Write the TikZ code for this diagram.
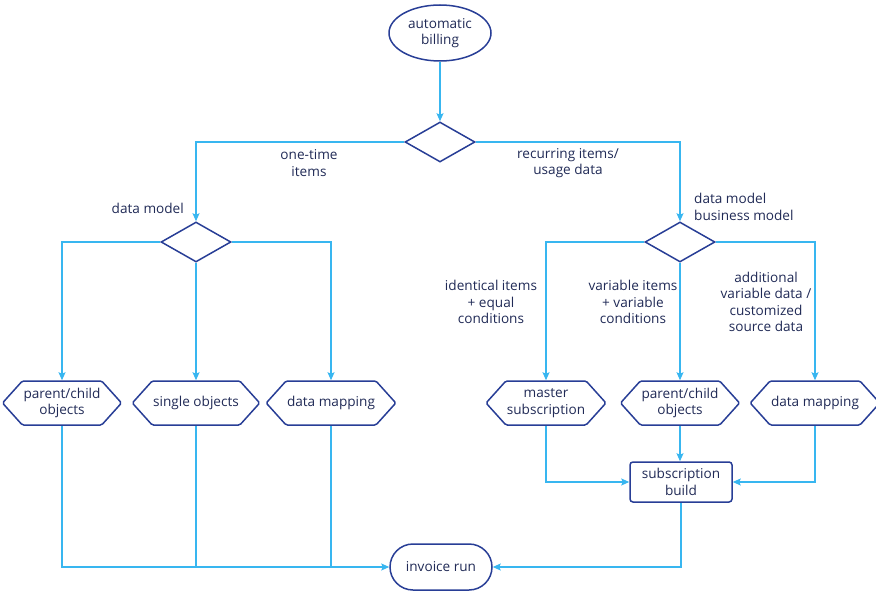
\documentclass[tikz,border=0pt]{standalone}
\usepackage{fontspec}
\setmainfont{Open Sans}
\usepackage{xcolor}
\usepackage{tikz}
\usetikzlibrary{shapes.geometric, shapes.symbols, arrows.meta, positioning, calc}
\definecolor{BillNavy}{RGB}{40, 62, 150}
\definecolor{BillSky}{RGB}{56, 182, 240}
\definecolor{BillText}{RGB}{32, 42, 86}

\tikzset{
  base/.style={draw=BillNavy, line width=1.5pt, text=BillText, align=center,
    font=\fontsize{13.6}{16.5}\selectfont, inner sep=1pt},
  startnode/.style={base, ellipse, minimum width=102pt, minimum height=56pt},
  endnode/.style={base, rectangle, rounded corners=23pt, minimum width=102pt, minimum height=46pt},
  choice/.style={base, diamond, minimum width=70pt, minimum height=40pt},
  hexnode/.style={base, signal, signal to=west and east, signal pointer angle=96,
    rounded corners=1.5pt, minimum width=119pt, minimum height=44pt},
  buildbox/.style={base, rectangle, rounded corners=3pt, minimum width=102pt, minimum height=40pt},
  flow/.style={draw=BillSky, line width=1.3pt, -{Stealth[length=8pt, width=7pt, inset=1.5pt]}},
  plain/.style={draw=BillSky, line width=1.3pt},
  note/.style={text=BillText, align=center, font=\fontsize{13.6}{16.5}\selectfont, inner sep=0pt}
}

\begin{document}
\begin{tikzpicture}[x=1pt, y=-1pt]
  \useasboundingbox (0,0) rectangle (876,594);

  \node[startnode] (billing) at (440,33) {automatic\\billing};
  \node[choice] (split) at (440,142) {};
  \node[choice] (onetime) at (196,242) {};
  \node[choice] (recur) at (680,242) {};

  \node[hexnode] (pcleft) at (62,403) {parent/child\\objects};
  \node[hexnode] (single) at (196,403) {single objects};
  \node[hexnode] (mapleft) at (331,403) {data mapping};
  \node[hexnode] (master) at (546,403) {master\\subscription};
  \node[hexnode] (pcright) at (680,403) {parent/child\\objects};
  \node[hexnode] (mapright) at (815,403) {data mapping};

  \node[buildbox] (build) at (681,482) {subscription\\build};
  \node[endnode] (invoice) at (441,567) {invoice run};

  % labels
  \node[note] at (309,163) {one-time\\items};
  \node[note] at (568,163) {recurring items/\\usage data};
  \node[note, anchor=east] at (184,208) {data model};
  \node[note, anchor=west, align=left] at (694,207) {data model\\business model};
  \node[note] at (491,302) {identical items\\+ equal\\conditions};
  \node[note] at (633,302) {variable items\\+ variable\\conditions};
  \node[note] at (766,302) {additional\\variable data /\\customized\\source data};

  % connectors
  \draw[flow] (billing) -- (split);
  \draw[flow] (split.west) -| (onetime.north);
  \draw[flow] (split.east) -| (recur.north);

  \draw[flow] (onetime.west) -| (pcleft.north);
  \draw[flow] (onetime.south) -- (single.north);
  \draw[flow] (onetime.east) -| (mapleft.north);
  \draw[flow] (recur.west) -| (master.north);
  \draw[flow] (recur.south) -- (pcright.north);
  \draw[flow] (recur.east) -| (mapright.north);

  \draw[flow] (pcleft.south) |- (invoice.west);
  \draw[plain] (single.south) -- (single.south |- invoice.west);
  \draw[plain] (mapleft.south) -- (mapleft.south |- invoice.west);

  \draw[flow] (master.south) |- (build.west);
  \draw[flow] (pcright.south) -- (pcright.south |- build.north);
  \draw[flow] (mapright.south) |- (build.east);
  \draw[flow] (build.south) |- (invoice.east);
\end{tikzpicture}
\end{document}
